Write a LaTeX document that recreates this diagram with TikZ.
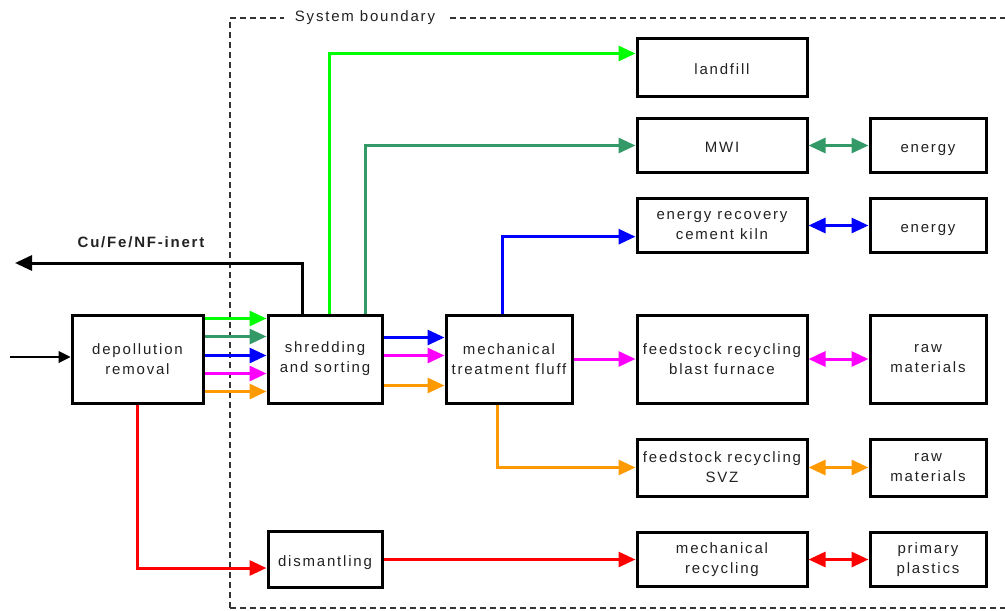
\documentclass[tikz,border=0pt]{standalone}
\usepackage{fontspec}
\setmainfont{Liberation Sans}[LetterSpace=12]
\usetikzlibrary{arrows.meta,calc}

\definecolor{txt}{HTML}{222222}
\definecolor{bnd}{HTML}{333333}
\definecolor{cgreen}{HTML}{00FF00}
\definecolor{cseagreen}{HTML}{339966}
\definecolor{cblue}{HTML}{0000FF}
\definecolor{cmagenta}{HTML}{FF00FF}
\definecolor{corange}{HTML}{FF9900}
\definecolor{cred}{HTML}{FF0000}

\begin{document}
\begin{tikzpicture}[x=0.75pt,y=-0.75pt,
  lbl/.style={text=txt, font=\fontsize{11.25pt}{15pt}\selectfont, align=center},
  box/.style={lbl, draw=black, line width=2.25pt, inner sep=0pt},
  bigbox/.style={box, minimum height=66pt},
  smallbox/.style={box, minimum height=42.75pt},
  oneline/.style={text height=10.5pt, text depth=0pt},
  flow/.style={line width=2.25pt, -{Triangle[length=12.75pt,width=11.25pt]}},
  twoway/.style={line width=2.25pt, {Triangle[length=12.75pt,width=11.25pt]}-{Triangle[length=12.75pt,width=11.25pt]}},
  feed/.style={line width=0.8pt, -{Triangle[length=9pt,width=9pt]}},
  boundary/.style={draw=bnd, line width=1pt, dash pattern=on 4.5pt off 3pt}
]
\useasboundingbox (0,0) rectangle (1005,610);

% system boundary
\draw[boundary] (230,608) -- (230,18) -- (1012,18);
\draw[boundary] (230,608) -- (1012,608);
\node[lbl, text height=8.5pt, text depth=2.65pt, fill=white, inner xsep=8pt, inner ysep=1pt] (sysb) at (365,18) {System boundary};

% process chain
\node[bigbox, minimum width=98.25pt] (dep) at (137.5,359) {depollution\\removal};
\node[bigbox, minimum width=85.5pt] (shr) at (325,359) {shredding\\and sorting};
\node[bigbox, minimum width=94.5pt] (mech) at (509,359) {mechanical\\treatment fluff};
\node[smallbox, oneline, minimum width=85.5pt, minimum height=42pt] (dis) at (325,559.5) {dismantling};

% treatment routes
\node[smallbox, oneline, minimum width=127.5pt] (land) at (722,67.5) {landfill};
\node[smallbox, oneline, minimum width=127.5pt, minimum height=41pt] (mwi) at (722,145.5) {MWI};
\node[smallbox, minimum width=127.5pt, minimum height=41pt] (erck) at (722,225.5) {energy recovery\\cement kiln};
\node[bigbox, minimum width=127.5pt] (bf) at (722,359) {feedstock recycling\\blast furnace};
\node[smallbox, minimum width=127.5pt] (svz) at (722,467.5) {feedstock recycling\\SVZ};
\node[smallbox, minimum width=127.5pt, minimum height=41pt] (mr) at (722,559.5) {mechanical\\recycling};

% substituted products
\node[smallbox, oneline, minimum width=87pt, minimum height=41pt] (en1) at (928,145.5) {energy};
\node[smallbox, oneline, minimum width=87pt, minimum height=41pt] (en2) at (928,225.5) {energy};
\node[bigbox, minimum width=87pt] (raw1) at (928,359) {raw\\materials};
\node[smallbox, minimum width=87pt] (raw2) at (928,467.5) {raw\\materials};
\node[smallbox, minimum width=87pt, minimum height=41pt] (prim) at (928,559.5) {primary\\plastics};

% input and metal output
\coordinate (inStart) at (10,357);
\draw[feed] (inStart) -- (inStart -| dep.west);
\coordinate (cuEnd) at (15,263);
\draw[flow, black] ($(shr.north west)+(36,0)$) |- (cuEnd);
\node[lbl, text height=8.5pt, text depth=2.65pt, font=\fontsize{11.25pt}{15pt}\selectfont\bfseries] (cu) at (141,244) {Cu/Fe/NF-inert};

% depollution -> shredding
\draw[flow, cgreen]    ($(dep.north east)+(0,5)$)  -- ($(shr.north west)+(0,5)$);
\draw[flow, cseagreen] ($(dep.north east)+(0,23)$) -- ($(shr.north west)+(0,23)$);
\draw[flow, cblue]     ($(dep.north east)+(0,42)$) -- ($(shr.north west)+(0,42)$);
\draw[flow, cmagenta]  ($(dep.north east)+(0,60)$) -- ($(shr.north west)+(0,60)$);
\draw[flow, corange]   ($(dep.north east)+(0,78)$) -- ($(shr.north west)+(0,78)$);

% shredding -> mechanical treatment
\draw[flow, cblue]    ($(shr.north east)+(0,24)$) -- ($(mech.north west)+(0,24)$);
\draw[flow, cmagenta] ($(shr.north east)+(0,42)$) -- ($(mech.north west)+(0,42)$);
\draw[flow, corange]  ($(shr.north east)+(0,72)$) -- ($(mech.north west)+(0,72)$);

% shredding -> landfill / MWI
\draw[flow, cgreen]    ($(shr.north west)+(63,0)$) |- ($(land.north west)+(0,16)$);
\draw[flow, cseagreen] ($(shr.north west)+(99,0)$) |- (mwi.west);

% fluff routes
\draw[flow, cblue]    ($(mech.north west)+(58,0)$) |- ($(erck.north west)+(0,40)$);
\draw[flow, cmagenta] (mech.east) -- (bf.west);
\draw[flow, corange]  ($(mech.south west)+(53,0)$) |- (svz.west);

% dismantling route
\draw[flow, cred] (dep.south) |- ($(dis.west)+(0,8.5)$);
\draw[flow, cred] (dis.east) -- (mr.west);

% substitution
\draw[twoway, cseagreen] (mwi.east) -- (en1.west);
\draw[twoway, cblue]     (erck.east) -- (en2.west);
\draw[twoway, cmagenta]  (bf.east) -- (raw1.west);
\draw[twoway, corange]   (svz.east) -- (raw2.west);
\draw[twoway, cred]      (mr.east) -- (prim.west);
\end{tikzpicture}
\end{document}
